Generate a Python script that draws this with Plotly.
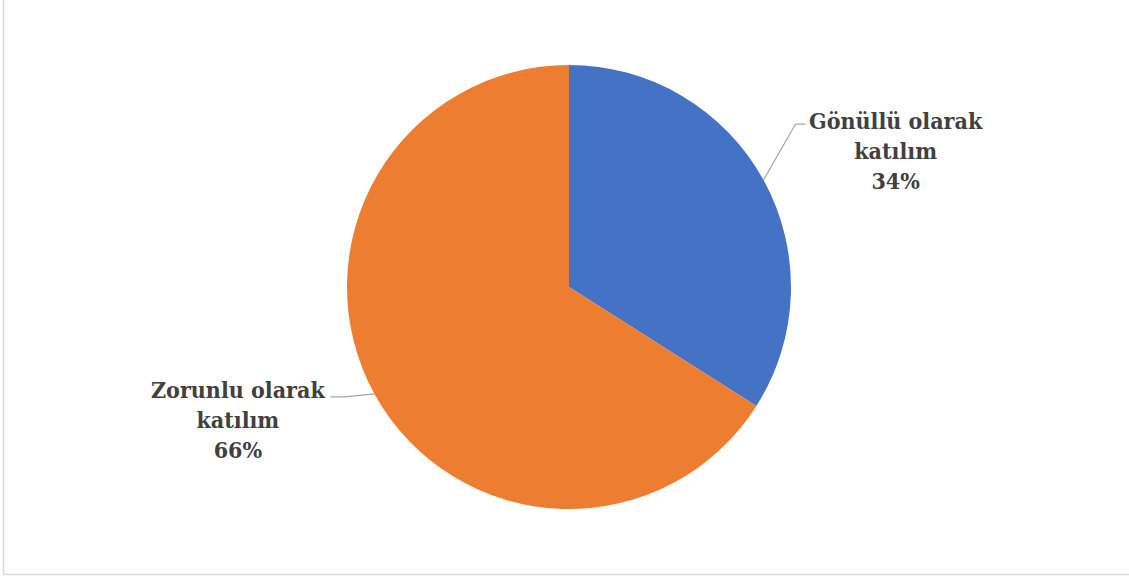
import math
import plotly.graph_objects as go

# Data
labels = ["Gönüllü olarak katılım", "Zorunlu olarak katılım"]
label_lines = [["Gönüllü olarak", "katılım"], ["Zorunlu olarak", "katılım"]]
values = [34, 66]
colors = ["#4472C4", "#ED7D31"]

W, H = 1129, 576
cx, cy, r = 569, 287, 222

fig = go.Figure()
fig.add_trace(go.Pie(
    labels=labels, values=values, sort=False, direction="clockwise", rotation=0,
    marker=dict(colors=colors, line=dict(width=0)),
    textinfo="none", hoverinfo="label+percent", showlegend=False,
    domain=dict(x=[(cx - r) / W, (cx + r) / W], y=[1 - (cy + r) / H, 1 - (cy - r) / H]),
))

def px(x):
    return x / W

def py(y):
    return 1 - y / H

total = sum(values)
cum = 0
styles = [
    dict(elbow=(32, -56), end=(42, -56), label=(132, -30)),
    dict(elbow=(-30, 3), end=(-44, 3), label=(-136, 26)),
]
for i, v in enumerate(values):
    mid = (cum + v / 2) / total * 2 * math.pi
    cum += v
    ex = cx + r * math.sin(mid)
    ey = cy - r * math.cos(mid)
    st = styles[i]
    bx, by = ex + st["elbow"][0], ey + st["elbow"][1]
    tx, ty = ex + st["end"][0], ey + st["end"][1]
    path = f"M {px(ex)},{py(ey)} L {px(bx)},{py(by)} L {px(tx)},{py(ty)}"
    fig.add_shape(type="path", path=path, xref="paper", yref="paper",
                  line=dict(color="#A6A6A6", width=1.3))
    lx = ex + st["label"][0]
    ly = ey + st["label"][1]
    pct = round(v / total * 100)
    txt = "<br>".join(["<b>" + s + "</b>" for s in label_lines[i] + [f"{pct}%"]])
    fig.add_annotation(x=px(lx), y=py(ly), xref="paper", yref="paper",
                       text=txt, showarrow=False, xanchor="center", yanchor="middle",
                       align="center",
                       font=dict(family="DejaVu Serif Condensed, DejaVu Serif", size=23,
                                 color="#404040"))

fig.add_shape(type="rect", xref="paper", yref="paper",
              x0=px(3.5), x1=px(W + 5), y0=py(574.5), y1=py(-5),
              line=dict(color="#D9D9D9", width=1.5), fillcolor="rgba(0,0,0,0)")

fig.update_layout(
    width=W, height=H, margin=dict(l=0, r=0, t=0, b=0),
    paper_bgcolor="white", plot_bgcolor="white",
)
fig.write_html("out.html")
